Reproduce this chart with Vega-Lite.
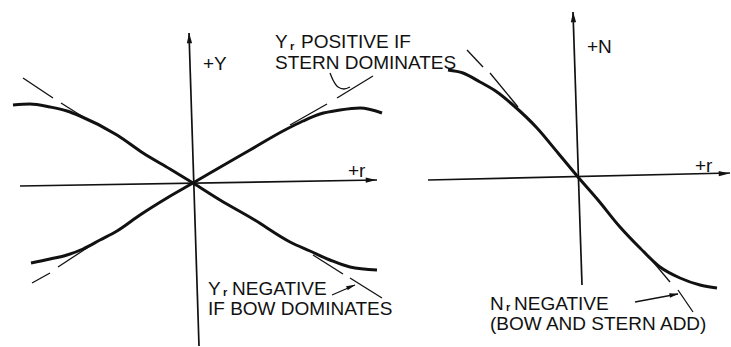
{
  "$schema": "https://vega.github.io/schema/vega-lite/v6.json",
  "background": "white",
  "padding": 0,
  "bounds": "flush",
  "spacing": 0,
  "config": {"view": {"stroke": null}, "font": "Liberation Sans"},
  "hconcat": [
    {
      "width": 400,
      "height": 347,
      "encoding": {
        "x": {"field": "r", "type": "quantitative", "scale": {"domain": [-193, 207], "nice": false, "zero": false}, "axis": null},
        "y": {"field": "Y", "type": "quantitative", "scale": {"domain": [-164, 183], "nice": false, "zero": false}, "axis": null}
      },
      "layer": [
        {
          "data": {"values": [
            {"seg": "r-axis", "r": -173, "Y": -3}, {"seg": "r-axis", "r": 184, "Y": 3},
            {"seg": "Y-axis", "r": -4, "Y": 150}, {"seg": "Y-axis", "r": 6, "Y": -163}
          ]},
          "mark": {"type": "line", "color": "#111", "strokeWidth": 1.7},
          "encoding": {"detail": {"field": "seg"}}
        },
        {
          "data": {"values": [
            {"seg": "a", "r": -170, "Y": 105}, {"seg": "a", "r": -140, "Y": 85},
            {"seg": "b", "r": -132, "Y": 80}, {"seg": "b", "r": -105, "Y": 63},
            {"seg": "c", "r": -161, "Y": -100}, {"seg": "c", "r": -143, "Y": -90},
            {"seg": "d", "r": -135, "Y": -84}, {"seg": "d", "r": -103, "Y": -63},
            {"seg": "e", "r": 97, "Y": 58}, {"seg": "e", "r": 134, "Y": 79},
            {"seg": "f", "r": 144, "Y": 85}, {"seg": "f", "r": 180, "Y": 107},
            {"seg": "g", "r": 120, "Y": -72}, {"seg": "g", "r": 150, "Y": -91},
            {"seg": "h", "r": 157, "Y": -95}, {"seg": "h", "r": 189, "Y": -115}
          ]},
          "mark": {"type": "line", "color": "#111", "strokeWidth": 1.3},
          "encoding": {"detail": {"field": "seg"}}
        },
        {
          "data": {"values": [
            {"curve": "stern", "r": -162, "Y": -80}, {"curve": "stern", "r": -143, "Y": -76},
            {"curve": "stern", "r": -126, "Y": -72}, {"curve": "stern", "r": -110, "Y": -66},
            {"curve": "stern", "r": -93, "Y": -57}, {"curve": "stern", "r": -76, "Y": -48},
            {"curve": "stern", "r": -53, "Y": -32}, {"curve": "stern", "r": -26, "Y": -15},
            {"curve": "stern", "r": 0, "Y": 0}, {"curve": "stern", "r": 24, "Y": 14},
            {"curve": "stern", "r": 57, "Y": 33}, {"curve": "stern", "r": 90, "Y": 52},
            {"curve": "stern", "r": 110, "Y": 62}, {"curve": "stern", "r": 127, "Y": 69},
            {"curve": "stern", "r": 147, "Y": 73}, {"curve": "stern", "r": 167, "Y": 75},
            {"curve": "stern", "r": 189, "Y": 70},
            {"curve": "bow", "r": -180, "Y": 78}, {"curve": "bow", "r": -163, "Y": 79},
            {"curve": "bow", "r": -143, "Y": 76}, {"curve": "bow", "r": -126, "Y": 72},
            {"curve": "bow", "r": -113, "Y": 67}, {"curve": "bow", "r": -76, "Y": 48},
            {"curve": "bow", "r": -50, "Y": 30}, {"curve": "bow", "r": -23, "Y": 14},
            {"curve": "bow", "r": 0, "Y": 0}, {"curve": "bow", "r": 27, "Y": -17},
            {"curve": "bow", "r": 60, "Y": -36}, {"curve": "bow", "r": 97, "Y": -59},
            {"curve": "bow", "r": 117, "Y": -68}, {"curve": "bow", "r": 137, "Y": -77},
            {"curve": "bow", "r": 157, "Y": -84}, {"curve": "bow", "r": 184, "Y": -87}
          ]},
          "mark": {"type": "line", "color": "#111", "strokeWidth": 3, "interpolate": "monotone"},
          "encoding": {"detail": {"field": "curve"}}
        },
        {
          "data": {"values": [
            {"seg": "hook", "r": 137, "Y": 110}, {"seg": "hook", "r": 140, "Y": 103},
            {"seg": "hook", "r": 145, "Y": 96}, {"seg": "hook", "r": 151, "Y": 94},
            {"seg": "hook", "r": 157, "Y": 96},
            {"seg": "pointer", "r": 139, "Y": -112}, {"seg": "pointer", "r": 162, "Y": -102}
          ]},
          "mark": {"type": "line", "color": "#111", "strokeWidth": 1.3, "interpolate": "monotone"},
          "encoding": {"detail": {"field": "seg"}}
        },
        {
          "data": {"values": [{"r": 178, "Y": 3}]},
          "mark": {"type": "point", "shape": "M0,-1L0.5,1L-0.5,1Z", "filled": true, "color": "#111", "size": 110, "angle": 89, "opacity": 1}
        },
        {
          "data": {"values": [{"r": -3.7, "Y": 145}]},
          "mark": {"type": "point", "shape": "M0,-1L0.5,1L-0.5,1Z", "filled": true, "color": "#111", "size": 110, "angle": -2, "opacity": 1}
        },
        {
          "data": {"values": [{"r": 158, "Y": -103.5}]},
          "mark": {"type": "point", "shape": "M0,-1L0.5,1L-0.5,1Z", "filled": true, "color": "#111", "size": 80, "angle": 66, "opacity": 1}
        },
        {
          "data": {"values": [
            {"r": 10, "Y": 113, "label": "+Y"},
            {"r": 155, "Y": 6, "label": "+r"},
            {"r": 82, "Y": 135, "label": "Y"},
            {"r": 108, "Y": 135, "label": "POSITIVE IF"},
            {"r": 82, "Y": 114, "label": "STERN DOMINATES"},
            {"r": 15, "Y": -112, "label": "Y"},
            {"r": 39, "Y": -112, "label": "NEGATIVE"},
            {"r": 15, "Y": -132, "label": "IF BOW DOMINATES"}
          ]},
          "mark": {"type": "text", "align": "left", "baseline": "alphabetic", "fontSize": 19, "color": "#111"},
          "encoding": {"text": {"field": "label"}}
        },
        {
          "data": {"values": [
            {"r": 97, "Y": 133, "label": "r"},
            {"r": 30, "Y": -112.5, "label": "r"}
          ]},
          "mark": {"type": "text", "align": "left", "baseline": "alphabetic", "fontSize": 11, "fontWeight": "bold", "color": "#111"},
          "encoding": {"text": {"field": "label"}}
        }
      ]
    },
    {
      "width": 331,
      "height": 347,
      "encoding": {
        "x": {"field": "r", "type": "quantitative", "scale": {"domain": [-178, 153], "nice": false, "zero": false}, "axis": null},
        "y": {"field": "N", "type": "quantitative", "scale": {"domain": [-170, 177], "nice": false, "zero": false}, "axis": null}
      },
      "layer": [
        {
          "data": {"values": [
            {"seg": "r-axis", "r": -150, "N": -3}, {"seg": "r-axis", "r": 152, "N": 4},
            {"seg": "N-axis", "r": -5, "N": 165}, {"seg": "N-axis", "r": 4, "N": -108}
          ]},
          "mark": {"type": "line", "color": "#111", "strokeWidth": 1.7},
          "encoding": {"detail": {"field": "seg"}}
        },
        {
          "data": {"values": [
            {"seg": "i", "r": -111, "N": 127}, {"seg": "i", "r": -95, "N": 110},
            {"seg": "j", "r": -88, "N": 104}, {"seg": "j", "r": -60, "N": 70},
            {"seg": "k", "r": 66, "N": -74}, {"seg": "k", "r": 92, "N": -105},
            {"seg": "l", "r": 100, "N": -113}, {"seg": "l", "r": 115, "N": -135}
          ]},
          "mark": {"type": "line", "color": "#111", "strokeWidth": 1.3},
          "encoding": {"detail": {"field": "seg"}}
        },
        {
          "data": {"values": [
            {"r": -130, "N": 107}, {"r": -115, "N": 104}, {"r": -98, "N": 95},
            {"r": -81, "N": 85}, {"r": -65, "N": 72}, {"r": -41, "N": 49},
            {"r": -20, "N": 24}, {"r": 0, "N": 0}, {"r": 20, "N": -23},
            {"r": 42, "N": -50}, {"r": 62, "N": -71}, {"r": 82, "N": -90},
            {"r": 102, "N": -101}, {"r": 122, "N": -108}, {"r": 139, "N": -111}
          ]},
          "mark": {"type": "line", "color": "#111", "strokeWidth": 3, "interpolate": "monotone"}
        },
        {
          "data": {"values": [{"r": 57, "N": -125}, {"r": 100, "N": -117}]},
          "mark": {"type": "line", "color": "#111", "strokeWidth": 1.3}
        },
        {
          "data": {"values": [{"r": 146, "N": 3.5}]},
          "mark": {"type": "point", "shape": "M0,-1L0.5,1L-0.5,1Z", "filled": true, "color": "#111", "size": 110, "angle": 89, "opacity": 1}
        },
        {
          "data": {"values": [{"r": -4.7, "N": 160}]},
          "mark": {"type": "point", "shape": "M0,-1L0.5,1L-0.5,1Z", "filled": true, "color": "#111", "size": 110, "angle": -2, "opacity": 1}
        },
        {
          "data": {"values": [{"r": 96, "N": -117.7}]},
          "mark": {"type": "point", "shape": "M0,-1L0.5,1L-0.5,1Z", "filled": true, "color": "#111", "size": 80, "angle": 79, "opacity": 1}
        },
        {
          "data": {"values": [
            {"r": 9, "N": 124, "label": "+N"},
            {"r": 117, "N": 5, "label": "+r"},
            {"r": -88, "N": -133, "label": "N"},
            {"r": -64, "N": -133, "label": "NEGATIVE"},
            {"r": -88, "N": -153, "label": "(BOW AND STERN ADD)"}
          ]},
          "mark": {"type": "text", "align": "left", "baseline": "alphabetic", "fontSize": 19, "color": "#111"},
          "encoding": {"text": {"field": "label"}}
        },
        {
          "data": {"values": [{"r": -72, "N": -133.5, "label": "r"}]},
          "mark": {"type": "text", "align": "left", "baseline": "alphabetic", "fontSize": 11, "fontWeight": "bold", "color": "#111"},
          "encoding": {"text": {"field": "label"}}
        }
      ]
    }
  ]
}
